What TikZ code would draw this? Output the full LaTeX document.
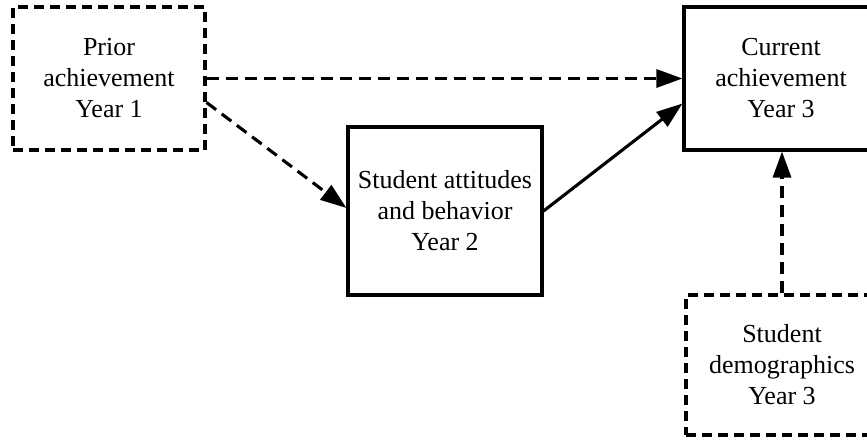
\documentclass[tikz,border=0pt]{standalone}
\usepackage{fontspec}
\setmainfont{Liberation Serif}
\usetikzlibrary{arrows.meta,calc}

\begin{document}
\begin{tikzpicture}[
  x=1pt, y=-1pt,
  every node/.style={font=\fontsize{26}{31}\selectfont, align=center, inner sep=0pt},
  box/.style={draw, line width=3.1pt, minimum width=#1, rectangle},
  dbox/.style={box=#1, dash pattern=on 10pt off 6pt},
  link/.style={line width=3.1pt, -{Triangle[length=26pt,width=18pt]}},
  dlink/.style={link, dash pattern=on 12pt off 7pt}
]
\useasboundingbox (0,0) rectangle (867,442);

% variables
\node[dbox=192pt, minimum height=143pt] (prior) at (109,78.5)
  {Prior\\achievement\\Year 1};
\node[box=194pt, minimum height=168pt] (att) at (445,211)
  {Student attitudes\\and behavior\\Year 2};
\node[box=194pt, minimum height=143pt] (cur) at (781,78.5)
  {Current\\achievement\\Year 3};
\node[dbox=192pt, minimum height=140pt] (demo) at (782,365)
  {Student\\demographics\\Year 3};

% paths
\draw[dlink] (prior.east) -- (cur.west);
\draw[dlink] ($(prior.east)+(0,24)$) -- ($(att.west)+(0,-3)$);
\draw[link] (att.east) -- ($(cur.west)+(0,25)$);
\draw[dlink] (demo.north) -- (demo.north |- cur.south);
\end{tikzpicture}
\end{document}
